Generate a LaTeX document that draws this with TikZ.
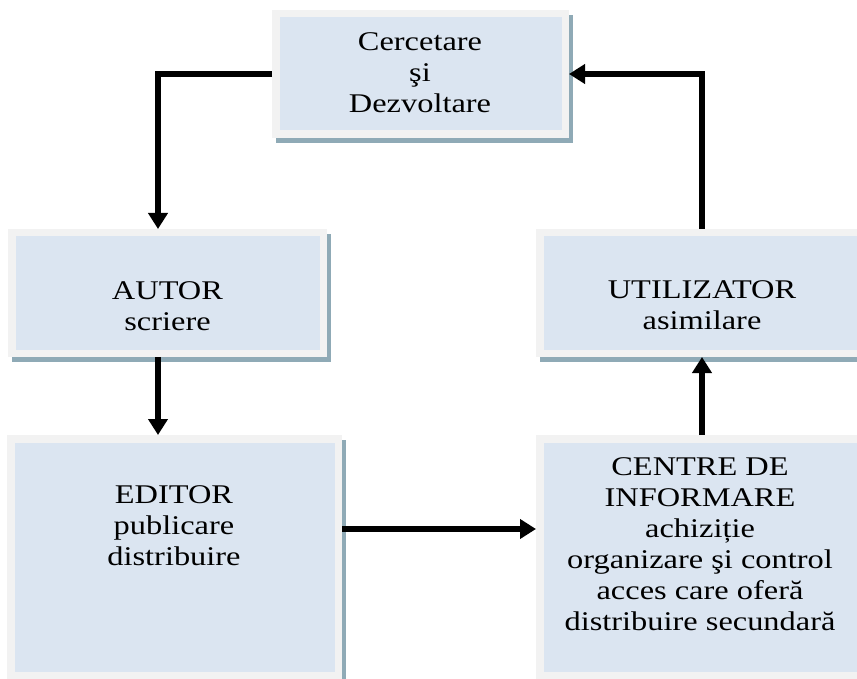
\documentclass[tikz,border=0pt]{standalone}
\usepackage{fontspec}
\setmainfont{Liberation Serif}[FakeStretch=1.2]
\usetikzlibrary{arrows.meta,calc}
\definecolor{boxfill}{HTML}{DBE5F1}
\definecolor{boxframe}{HTML}{F2F2F2}
\definecolor{boxshadow}{HTML}{8FAAB6}
\tikzset{
  box/.style={draw=boxframe, fill=boxfill, line width=7.5pt, inner sep=0pt, anchor=north west,
    preaction={draw=boxshadow, fill=boxshadow, line width=7.5pt, transform canvas={shift={(4pt,-5pt)}}}},
  lbl/.style={align=center, font=\fontsize{27}{31}\selectfont, inner sep=0pt},
  arr/.style={line width=5.5pt, -{Triangle[width=19pt,length=16pt]}}
}
\begin{document}
\begin{tikzpicture}[x=1pt,y=-1pt]
\useasboundingbox (0,0) rectangle (857,679);
\clip (0,0) rectangle (857,679);
\node[box, minimum width=289.5pt, minimum height=120.5pt] (rd) at (272,10) {};
\node[box, minimum width=311.5pt, minimum height=120.5pt] (autor) at (8,229) {};
\node[box, minimum width=326.5pt, minimum height=120.5pt] (util) at (536,229) {};
\node[box, minimum width=327.5pt, minimum height=236.5pt] (editor) at (7,435) {};
\node[box, minimum width=326.5pt, minimum height=236.5pt] (centre) at (536,435) {};

\node[lbl] (rdT) at (420,73) {Cercetare\\ş{}i\\Dezvoltare};
\node[lbl] (autorT) at (167.5,306) {AUTOR\\scriere};
\node[lbl] (utilT) at (702,305) {UTILIZATOR\\asimilare};
\node[lbl] (editorT) at (174,526) {EDITOR\\publicare\\distribuire};
\node[lbl] (centreT) at (700,544) {CENTRE DE\\INFORMARE\\achiziție\\organizare şi control\\acces care oferă\\distribuire secundară};

\coordinate (cl) at (158,0);
\coordinate (cr) at (702,0);
\coordinate (ch) at (0,529);
\draw[arr] (rd.west) -- (rd.west -| cl) -- (cl |- autor.north);
\draw[arr] (cl |- autor.south) -- (cl |- editor.north);
\draw[arr] (editor.east |- ch) -- (centre.west |- ch);
\draw[arr] (cr |- centre.north) -- (cr |- util.south);
\draw[arr] (cr |- util.north) -- (cr |- rd.east) -- (rd.east);
\end{tikzpicture}
\end{document}
